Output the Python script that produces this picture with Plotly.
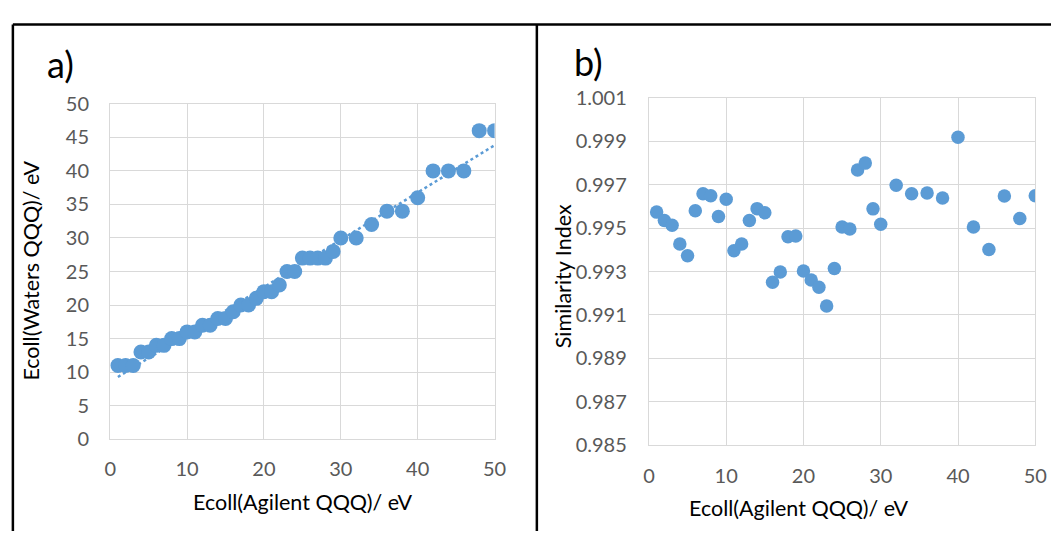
import numpy as np
import plotly.graph_objects as go

# Ecoll values (eV) on the Agilent QQQ
agilent_ecoll = [1, 2, 3, 4, 5, 6, 7, 8, 9, 10, 11, 12, 13, 14, 15, 16, 17, 18, 19, 20,
                 21, 22, 23, 24, 25, 26, 27, 28, 29, 30, 32, 34, 36, 38, 40, 42, 44, 46, 48, 50]
# matching Ecoll on the Waters QQQ (panel a)
waters_ecoll = [11, 11, 11, 13, 13, 14, 14, 15, 15, 16, 16, 17, 17, 18, 18, 19, 20, 20, 21, 22,
                22, 23, 25, 25, 27, 27, 27, 27, 28, 30, 30, 32, 34, 34, 36, 40, 40, 40, 46, 46]
# spectral similarity index (panel b)
similarity = [0.99574, 0.99535, 0.99513, 0.99427, 0.99373, 0.99580, 0.99659, 0.99649, 0.99554, 0.99633,
              0.99396, 0.99427, 0.99535, 0.99590, 0.99571, 0.99251, 0.99298, 0.99460, 0.99464, 0.99302,
              0.99261, 0.99227, 0.99141, 0.99314, 0.99505, 0.99496, 0.99768, 0.99800, 0.99589, 0.99518,
              0.99698, 0.99659, 0.99662, 0.99639, 0.99919, 0.99505, 0.99402, 0.99648, 0.99545, 0.99649]

W, H = 1063, 542
BLUE = "#5B9BD5"
GRID = "#D9D9D9"
TICK = "#595959"
FONT = "Lato"

def px(x):
    return x / W

def py(y):
    return 1 - y / H

# linear trendline for panel a
slope, icpt = np.polyfit(agilent_ecoll, waters_ecoll, 1)
trend_x = np.array([min(agilent_ecoll), max(agilent_ecoll)])
trend_y = slope * trend_x + icpt

fig = go.Figure()

fig.add_trace(go.Scatter(x=trend_x, y=trend_y, mode="lines",
                         line=dict(color=BLUE, width=2.5, dash="dot"),
                         xaxis="x", yaxis="y", showlegend=False))
fig.add_trace(go.Scatter(x=agilent_ecoll, y=waters_ecoll, mode="markers",
                         marker=dict(color=BLUE, size=15),
                         xaxis="x", yaxis="y", showlegend=False))
fig.add_trace(go.Scatter(x=agilent_ecoll, y=similarity, mode="markers",
                         marker=dict(color=BLUE, size=13.5),
                         xaxis="x2", yaxis="y2", showlegend=False))

axis_common = dict(showgrid=True, gridcolor=GRID, gridwidth=1.3, zeroline=False,
                   showline=True, linecolor=GRID, linewidth=1.3, mirror=True,
                   tickfont=dict(family=FONT, size=20, color=TICK), ticks="")

fig.update_layout(
    width=W, height=H,
    margin=dict(l=0, r=0, t=0, b=0),
    paper_bgcolor="white", plot_bgcolor="white",
    font=dict(family=FONT),
    xaxis=dict(domain=[px(106), px(497)], range=[0, 50], dtick=10, anchor="y",
               ticklabelstandoff=12, **axis_common),
    yaxis=dict(domain=[py(446), py(95)], range=[0, 50], dtick=5, anchor="x",
               ticklabelstandoff=16, **axis_common),
    xaxis2=dict(domain=[px(654), px(1047)], range=[0, 50], dtick=10, anchor="y2",
                ticklabelstandoff=13, **axis_common),
    yaxis2=dict(domain=[py(452), py(89)], range=[0.985, 1.001], tick0=0.985, dtick=0.002,
                tickformat=".3f", anchor="x2", ticklabelstandoff=17, **axis_common),
)

# frame around the two panels
frame = dict(color="black", width=2.5)
fig.add_shape(type="line", xref="paper", yref="paper", x0=px(7), x1=1, y0=py(12), y1=py(12), line=frame)
fig.add_shape(type="line", xref="paper", yref="paper", x0=px(7), x1=px(7), y0=py(12), y1=0, line=frame)
fig.add_shape(type="line", xref="paper", yref="paper", x0=px(540), x1=px(540), y0=py(12), y1=0, line=frame)

def label(text, x, y, size, angle=0, color="black"):
    fig.add_annotation(text=text, xref="paper", yref="paper", x=px(x), y=py(y),
                       showarrow=False, textangle=angle, xanchor="center", yanchor="middle",
                       font=dict(family=FONT, size=size, color=color))

label("a)", 55, 53, 36)
label("b)", 593, 51, 36)
label("Ecoll(Agilent QQQ)/ eV", 302, 512, 21.5)
label("Ecoll(Waters QQQ)/ eV", 25, 270, 21.5, angle=-90)
label("Ecoll(Agilent QQQ)/ eV", 806, 518, 21.5)
label("Similarity Index", 566, 275, 21.5, angle=-90)

# drop the default page margin so the 1063x542 figure fills the window exactly
fig.write_html("out.html", config={"displayModeBar": False},
               post_script="document.body.style.margin='0';")
